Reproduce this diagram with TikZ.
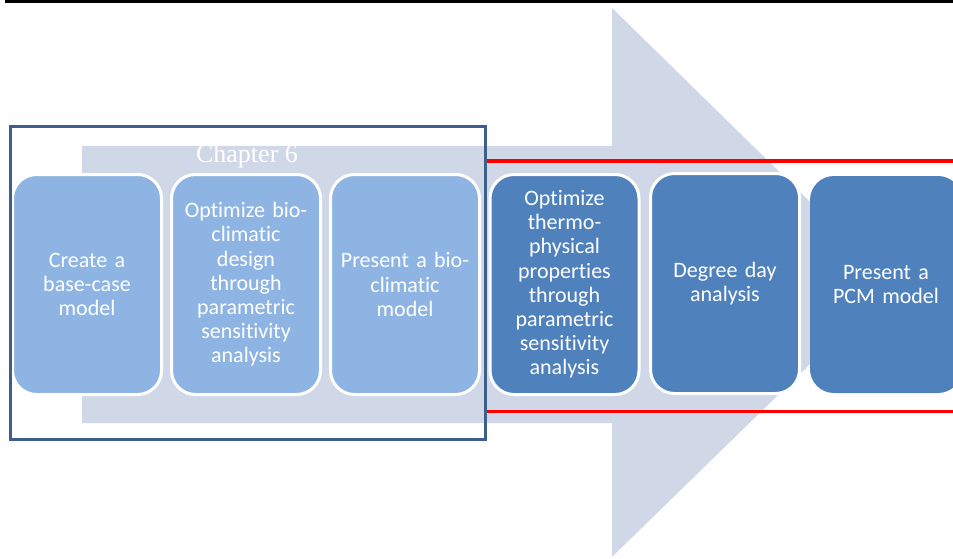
\documentclass[tikz,border=0pt]{standalone}
\usepackage{fontspec}
\setmainfont{Carlito}[RawFeature={-liga}, WordSpace=0.8]
\newfontfamily\chapfont{Liberation Serif}
\definecolor{arrowcol}{HTML}{D0D8E8}
\definecolor{lightbox}{HTML}{8EB4E3}
\definecolor{darkbox}{HTML}{4F81BD}
\definecolor{framecol}{HTML}{3E5F8A}
\definecolor{redline}{HTML}{FF0000}
\begin{document}
\begin{tikzpicture}[x=1pt,y=-1pt,
  stepbox/.style={rectangle, rounded corners=24pt, minimum width=149pt, minimum height=220pt,
    draw=white, line width=3pt, text=white, align=center, text width=140pt, inner sep=0pt,
    font=\fontsize{22pt}{24.2pt}\selectfont},
  lightstep/.style={stepbox, fill=lightbox},
  darkstep/.style={stepbox, fill=darkbox},
  redrule/.style={draw=redline, line width=3pt},
]
\useasboundingbox (0,0) rectangle (953,559);
% top rule
\draw[line width=3pt] (5,2) -- (953,2);
% big arrow
\fill[arrowcol] (82,146) -- (612,146) -- (612,8) -- (893,283) -- (612,557) -- (612,423) -- (82,423) -- cycle;
% chapter label
\node[anchor=base, text=white, font=\chapfont\fontsize{26pt}{30pt}\selectfont, inner sep=0pt] (chap) at (247,163) {Chapter 6};
% red rules
\coordinate (rtl) at (487,161);
\coordinate (rtr) at (953,161);
\coordinate (rbl) at (487,411);
\coordinate (rbr) at (953,411);
\draw[redrule] (rtl) -- (rtr);
\draw[redrule] (rbl) -- (rbr);
% boxes
\node[lightstep] (b1) at (87,284.5) {Create a\\base-case\\model};
\node[lightstep] (b2) at (246,284.5) {Optimize bio-\\climatic\\design\\through\\parametric\\sensitivity\\analysis};
\node[lightstep] (b3) at (405,284.5) {Present a bio-\\climatic\\model};
\node[darkstep] (b4) at (564.5,284.5) {Optimize\\thermo-\\physical\\properties\\through\\parametric\\sensitivity\\analysis};
\node[darkstep] (b5) at (725,283.5) {Degree day\\analysis};
\node[darkstep, draw=none, minimum width=152pt, minimum height=217pt] (b6) at (886,284.5) {Present a\\PCM model};
\draw[arrowcol, line width=1pt] (805,200) -- (805,370);
% chapter frame
\node[draw=framecol, line width=3pt, minimum width=475pt, minimum height=312pt, inner sep=0pt] (frame) at (247.5,283) {};
\end{tikzpicture}
\end{document}
